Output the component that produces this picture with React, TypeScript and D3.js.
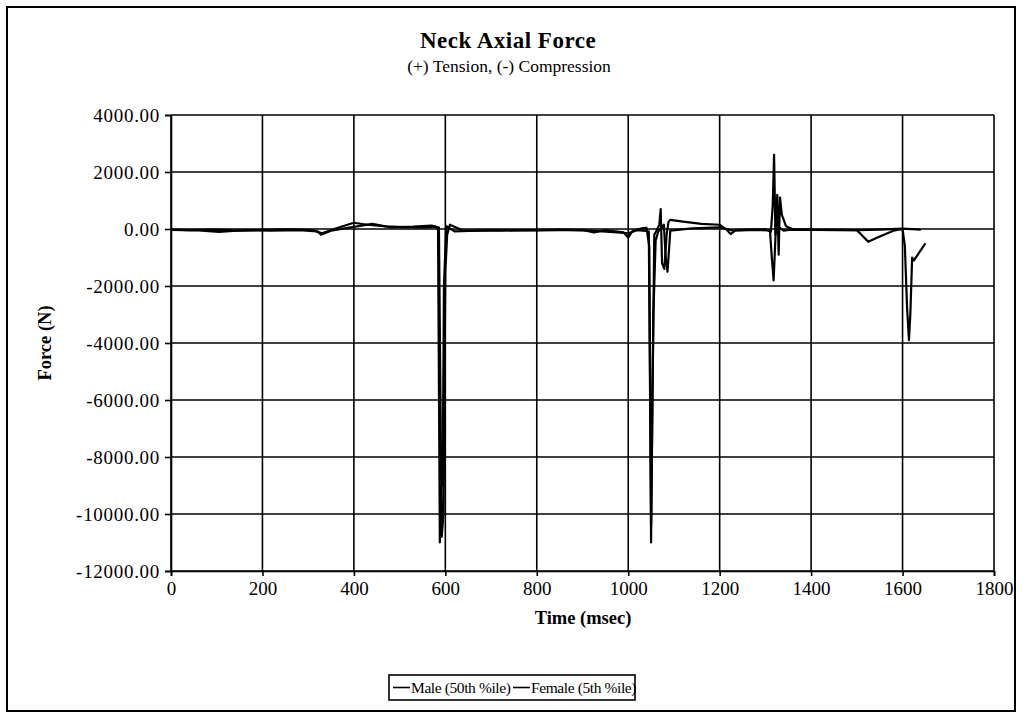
import * as d3 from "d3";
import {useEffect, useRef} from "react";

// time (msec) / force (N)
const maleTime = [0, 40, 100, 150, 200, 260, 310, 330, 360, 400, 430, 470, 520, 560, 578, 584, 588, 591, 594, 597, 602, 620, 700, 800, 900, 925, 950, 990, 1000, 1010, 1030, 1040, 1046, 1050, 1053, 1057, 1062, 1068, 1071, 1074, 1079, 1084, 1088, 1092, 1120, 1160, 1200, 1215, 1224, 1235, 1260, 1300, 1312, 1316, 1319, 1322, 1325, 1328, 1340, 1355, 1400, 1500, 1550, 1600, 1640];
const maleForce = [-20, -40, -20, -60, -30, -10, -40, -150, 20, 220, 150, 90, 60, 60, 80, 0, -11000, -9000, -9000, -2000, 100, -80, -40, -50, -30, -120, -40, -120, -300, -60, 20, 40, -600, -11000, -6000, -200, -50, 150, 700, -1200, -1400, -200, 250, 320, 260, 180, 150, -20, -180, -40, -20, -10, -100, 800, 2600, -200, 100, 80, -60, -20, -30, -40, -20, 10, -20];
const femaleTime = [0, 60, 105, 160, 220, 280, 320, 328, 350, 380, 410, 440, 480, 530, 570, 586, 592, 596, 600, 604, 610, 640, 720, 850, 920, 960, 1000, 1020, 1045, 1050, 1055, 1060, 1066, 1078, 1082, 1086, 1092, 1140, 1200, 1230, 1280, 1310, 1314, 1318, 1322, 1326, 1329, 1332, 1336, 1345, 1360, 1420, 1500, 1510, 1525, 1545, 1580, 1600, 1605, 1610, 1614, 1617, 1621, 1625, 1650];
const femaleForce = [-30, -50, -100, -40, -60, -40, -80, -200, -60, 20, 100, 180, 60, 80, 120, 50, -10800, -10000, -1500, -200, 150, -60, -60, -20, -60, -100, -150, -40, -80, -10400, -3000, -400, -80, 150, -1000, -1500, -60, 20, 60, -60, -30, -50, -1000, -1800, -300, 1200, -900, 1100, 500, 100, -10, -30, -40, -200, -450, -300, -60, 0, -600, -2800, -3900, -3000, -1000, -1100, -500];

const timeTicks = [0, 200, 400, 600, 800, 1000, 1200, 1400, 1600, 1800];
const forceTicks = [4000, 2000, 0, -2000, -4000, -6000, -8000, -10000, -12000];
const seriesNames = ["Male (50th %ile)", "Female (5th %ile)"];

const FONT = "'Liberation Serif', 'Times New Roman', serif";

export default function App() {
    const svgRef = useRef(null);
    const width = 1023;
    const height = 719;
    const plot = {left: 171, right: 994, top: 115, bottom: 571};

    useEffect(() => {
        if (!svgRef.current) return;
        d3.select(svgRef.current).selectAll("*").remove();

        const svg = d3.select(svgRef.current)
            .attr("width", width)
            .attr("height", height)
            .style("font-family", FONT);

        const x = d3.scaleLinear().domain([0, 1800]).range([plot.left, plot.right]);
        const y = d3.scaleLinear().domain([-12000, 4000]).range([plot.bottom, plot.top]);

        // outer frame
        svg.append("rect")
            .attr("x", 7).attr("y", 7)
            .attr("width", 1008).attr("height", 704)
            .attr("fill", "white")
            .attr("stroke", "black")
            .attr("stroke-width", 2);

        // titles
        svg.append("text")
            .attr("x", 508).attr("y", 48)
            .attr("text-anchor", "middle")
            .attr("font-size", 23).attr("font-weight", "bold")
            .style("letter-spacing", "0.5px")
            .text("Neck Axial Force");
        svg.append("text")
            .attr("x", 509).attr("y", 72)
            .attr("text-anchor", "middle")
            .attr("font-size", 17.5)
            .text("(+) Tension, (-) Compression");

        // gridlines
        svg.append("g")
            .selectAll("line")
            .data(timeTicks)
            .join("line")
            .attr("x1", d => x(d)).attr("x2", d => x(d))
            .attr("y1", plot.top).attr("y2", plot.bottom)
            .attr("stroke", "black").attr("stroke-width", 1.6);
        svg.append("g")
            .selectAll("line")
            .data(forceTicks)
            .join("line")
            .attr("x1", plot.left).attr("x2", plot.right)
            .attr("y1", d => y(d)).attr("y2", d => y(d))
            .attr("stroke", "black").attr("stroke-width", 1.6);

        // axes
        const xAxis = svg.append("g")
            .attr("transform", `translate(0,${plot.bottom})`)
            .call(d3.axisBottom(x).tickValues(timeTicks).tickSize(5).tickPadding(6).tickFormat(d => String(d)));
        const yAxis = svg.append("g")
            .attr("transform", `translate(${plot.left},0)`)
            .call(d3.axisLeft(y).tickValues(forceTicks).tickSize(6).tickPadding(5).tickFormat(d => (+d).toFixed(2)));
        [xAxis, yAxis].forEach(a => {
            a.select(".domain").attr("stroke", "black").attr("stroke-width", 1.6);
            a.selectAll(".tick line").attr("stroke", "black").attr("stroke-width", 1.6);
            a.selectAll(".tick text")
                .attr("fill", "black")
                .style("font-family", FONT)
                .style("font-size", "19px");
        });
        yAxis.selectAll(".tick text").style("letter-spacing", "0.7px");

        // axis titles
        svg.append("text")
            .attr("x", 583).attr("y", 624)
            .attr("text-anchor", "middle")
            .attr("font-size", 18.5).attr("font-weight", "bold")
            .text("Time (msec)");
        svg.append("text")
            .attr("transform", `translate(51,${(plot.top + plot.bottom) / 2}) rotate(-90)`)
            .attr("text-anchor", "middle")
            .attr("font-size", 18.5).attr("font-weight", "bold")
            .text("Force (N)");

        // data lines
        const line = d3.line<[number, number]>()
            .x(d => x(d[0]))
            .y(d => y(d[1]));
        const series = [
            maleTime.map((t, i) => [t, maleForce[i]] as [number, number]),
            femaleTime.map((t, i) => [t, femaleForce[i]] as [number, number])
        ];
        svg.append("g")
            .selectAll("path")
            .data(series)
            .join("path")
            .attr("d", d => line(d))
            .attr("fill", "none")
            .attr("stroke", "black")
            .attr("stroke-width", 2.2)
            .attr("stroke-linejoin", "round");

        // legend, centred on the chart area
        const legend = svg.append("g").attr("transform", "translate(389,675)");
        legend.append("rect")
            .attr("width", 246).attr("height", 25)
            .attr("fill", "white")
            .attr("stroke", "black").attr("stroke-width", 1.6);
        const offsets = [4, 124];
        seriesNames.forEach((name, i) => {
            legend.append("line")
                .attr("x1", offsets[i]).attr("x2", offsets[i] + 17)
                .attr("y1", 12.5).attr("y2", 12.5)
                .attr("stroke", "black").attr("stroke-width", 1.6);
            legend.append("text")
                .attr("x", offsets[i] + 18).attr("y", 18)
                .attr("font-size", 15.5)
                .style("letter-spacing", "-0.4px")
                .text(name);
        });
    }, []);

    return (
        <div style={{position: "absolute", left: 0, top: 0}}>
            <svg ref={svgRef}></svg>
        </div>
    );
}
